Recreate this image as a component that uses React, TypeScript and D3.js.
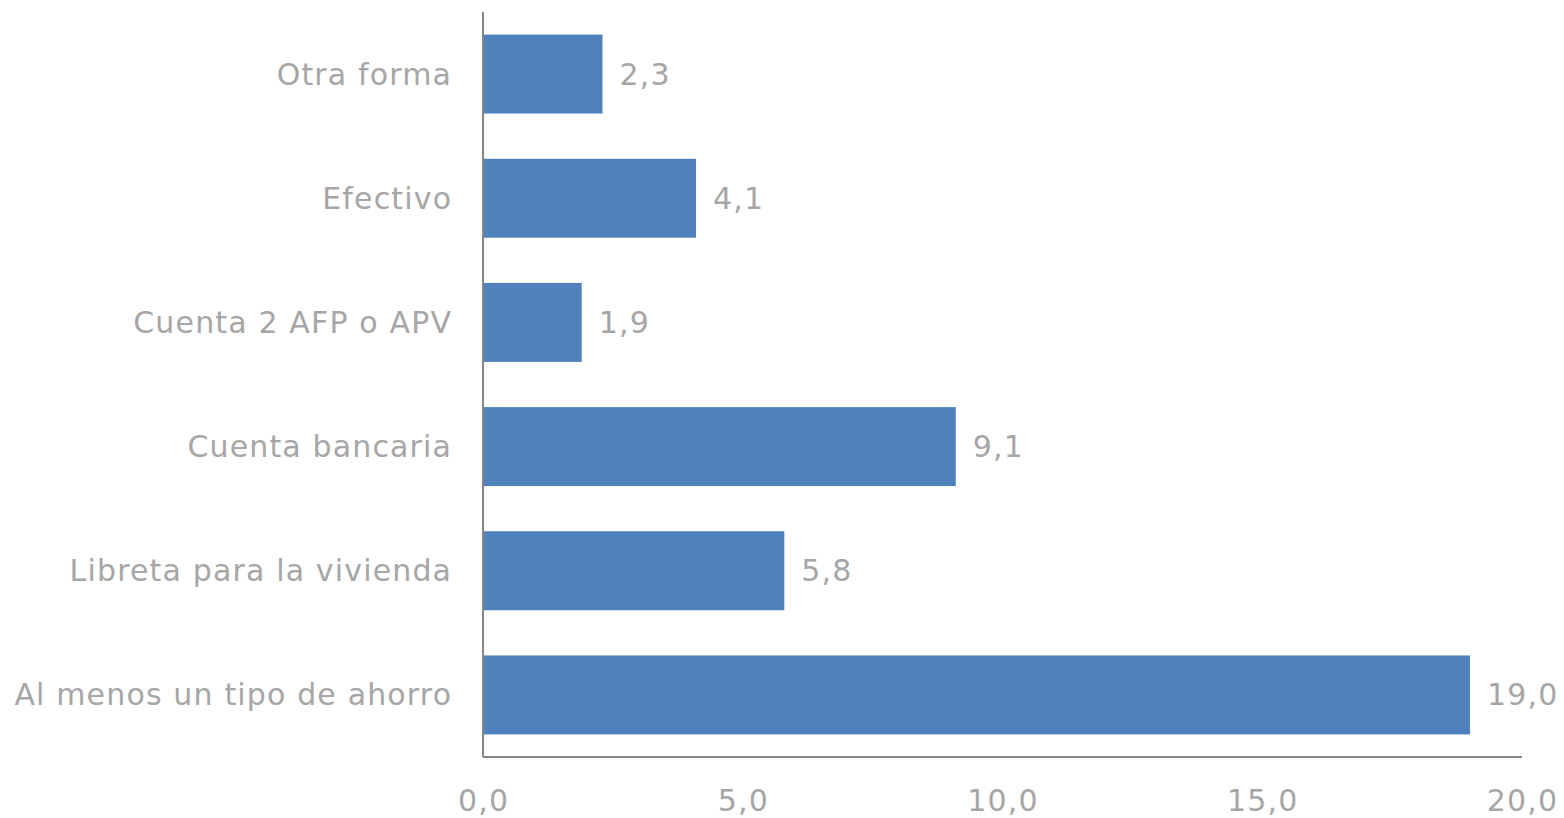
import * as d3 from "d3";

const categories = [
  "Otra forma",
  "Efectivo",
  "Cuenta 2 AFP o APV",
  "Cuenta bancaria",
  "Libreta para la vivienda",
  "Al menos un tipo de ahorro",
];
const values = [2.3, 4.1, 1.9, 9.1, 5.8, 19.0];
const xTicks = [0, 5, 10, 15, 20];

const width = 1564;
const height = 818;
const marginTop = 12;
const marginBottom = 61;
const marginLeft = 483;
const marginRight = 42;

const textColor = "#a6a6a6";
const axisColor = "#868686";
const barColor = "#4f81bd";
const font = "'DejaVu Sans', Verdana, sans-serif";
const spacing = 1.15;

const fmt = (v: number) => v.toFixed(1).replace(".", ",");

export default function App() {
  const x = d3
    .scaleLinear()
    .domain([0, 20])
    .range([marginLeft, width - marginRight]);

  const y = d3
    .scaleBand<string>()
    .domain(categories)
    .range([marginTop, height - marginBottom])
    .paddingInner(0.364)
    .paddingOuter(0.182);

  const y0 = height - marginBottom;

  return (
    <svg
      width={width}
      height={height}
      viewBox={`0 0 ${width} ${height}`}
      style={{ position: "absolute", left: 0, top: 0 }}
      fontFamily={font}
      letterSpacing={spacing}
    >
      {categories.map((c, i) => {
        const yc = (y(c) as number) + y.bandwidth() / 2;
        return (
          <g key={c}>
            <rect
              x={x(0)}
              y={y(c)}
              width={x(values[i]) - x(0)}
              height={y.bandwidth()}
              fill={barColor}
            />
            <text
              x={x(values[i]) + 17}
              y={yc}
              dy="0.35em"
              fontSize={30}
              fill={textColor}
            >
              {fmt(values[i])}
            </text>
            <text
              x={marginLeft - 32 + spacing}
              y={yc}
              dy="0.35em"
              fontSize={30}
              fill={textColor}
              textAnchor="end"
            >
              {c}
            </text>
          </g>
        );
      })}

      <line
        x1={x(0)}
        x2={x(0)}
        y1={marginTop}
        y2={y0}
        stroke={axisColor}
        strokeWidth={2}
      />
      <line
        x1={x(0)}
        x2={x(20)}
        y1={y0}
        y2={y0}
        stroke={axisColor}
        strokeWidth={2}
      />

      {xTicks.map((t) => (
        <text
          key={t}
          x={x(t) + spacing / 2}
          y={800}
          dy="0.35em"
          fontSize={30}
          fill={textColor}
          textAnchor="middle"
        >
          {fmt(t)}
        </text>
      ))}
    </svg>
  );
}
